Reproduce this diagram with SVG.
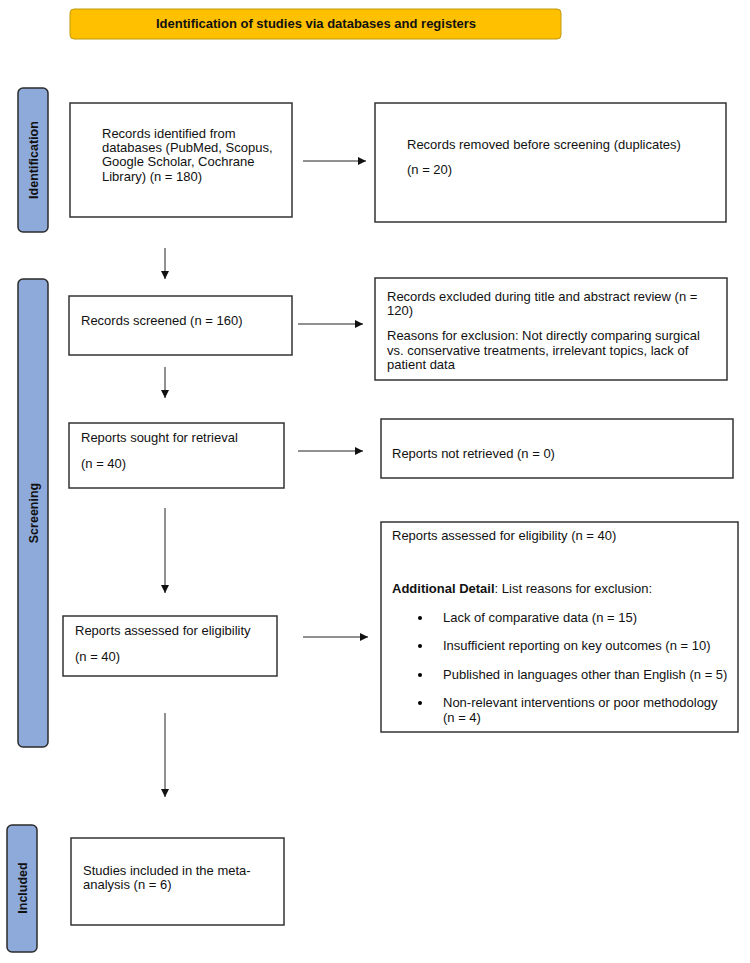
<svg xmlns="http://www.w3.org/2000/svg" width="750" height="963" viewBox="0 0 750 963">
<style>
text{font-family:"Liberation Sans",Arial,sans-serif;font-size:13px;fill:#111}
.box{fill:#fff;stroke:#333;stroke-width:1.5}
.side{fill:#8EAADB;stroke:#2b2b2b;stroke-width:1.5}
.sidet{font-weight:bold;font-size:12.5px;text-anchor:middle}
.conn{stroke:#222;stroke-width:1;fill:none;marker-end:url(#ah)}
</style>
<defs>
<marker id="ah" markerWidth="8" markerHeight="8" refX="8" refY="4" orient="auto" markerUnits="userSpaceOnUse">
<path d="M0,0 L8,4 L0,8 Z" fill="#111"/>
</marker>
</defs>
<rect width="750" height="963" fill="#fff"/>

<g id="header">
<rect x="70" y="9" width="491" height="30" rx="4" fill="#FFC000" stroke="#C09A10" stroke-width="1"/>
<text x="316" y="28" text-anchor="middle" font-weight="bold">Identification of studies via databases and registers</text>
</g>

<g id="side-identification">
<rect class="side" x="18" y="88" width="30" height="144" rx="5"/>
<text class="sidet" transform="translate(37.5,160) rotate(-90)">Identification</text>
</g>
<g id="side-screening">
<rect class="side" x="18" y="279" width="30" height="468" rx="5"/>
<text class="sidet" transform="translate(37.5,513) rotate(-90)">Screening</text>
</g>
<g id="side-included">
<rect class="side" x="7" y="825" width="30" height="127" rx="5"/>
<text class="sidet" transform="translate(26.5,888) rotate(-90)">Included</text>
</g>

<g id="n-identified">
<rect class="box" x="70" y="103" width="222" height="114"/>
<text x="102" y="138">Records identified from</text>
<text x="102" y="152">databases (PubMed, Scopus,</text>
<text x="102" y="166">Google Scholar, Cochrane</text>
<text x="102" y="181">Library) (n = 180)</text>
</g>
<g id="n-removed">
<rect class="box" x="375" y="103" width="351" height="119"/>
<text x="407" y="149">Records removed before screening (duplicates)</text>
<text x="407" y="174">(n = 20)</text>
</g>
<g id="n-screened">
<rect class="box" x="69" y="296" width="223" height="59"/>
<text x="81" y="325">Records screened (n = 160)</text>
</g>
<g id="n-excluded">
<rect class="box" x="375" y="278" width="352" height="102"/>
<text x="387" y="301">Records excluded during title and abstract review (n =</text>
<text x="387" y="315">120)</text>
<text x="387" y="340">Reasons for exclusion: Not directly comparing surgical</text>
<text x="387" y="355">vs. conservative treatments, irrelevant topics, lack of</text>
<text x="387" y="369">patient data</text>
</g>
<g id="n-sought">
<rect class="box" x="69" y="423" width="215" height="65"/>
<text x="81" y="442">Reports sought for retrieval</text>
<text x="81" y="468">(n = 40)</text>
</g>
<g id="n-notretrieved">
<rect class="box" x="381" y="419" width="352" height="59"/>
<text x="392" y="458">Reports not retrieved (n = 0)</text>
</g>
<g id="n-assessed">
<rect class="box" x="63" y="616" width="214" height="60"/>
<text x="75" y="635">Reports assessed for eligibility</text>
<text x="75" y="661">(n = 40)</text>
</g>
<g id="n-reasons">
<rect class="box" x="381" y="522" width="357" height="210"/>
<text x="392" y="540">Reports assessed for eligibility (n = 40)</text>
<text x="392" y="593"><tspan font-weight="bold">Additional Detail</tspan>: List reasons for exclusion:</text>
<circle cx="420" cy="618" r="2"/>
<circle cx="420" cy="646" r="2"/>
<circle cx="420" cy="675" r="2"/>
<circle cx="420" cy="703" r="2"/>
<text x="443" y="622">Lack of comparative data (n = 15)</text>
<text x="443" y="650">Insufficient reporting on key outcomes (n = 10)</text>
<text x="443" y="679">Published in languages other than English (n = 5)</text>
<text x="443" y="707">Non-relevant interventions or poor methodology</text>
<text x="443" y="722">(n = 4)</text>
</g>
<g id="n-included">
<rect class="box" x="71" y="838" width="213" height="87"/>
<text x="83" y="875">Studies included in the meta-</text>
<text x="83" y="889">analysis (n = 6)</text>
</g>

<g id="connectors">
<line class="conn" x1="303" y1="161" x2="366" y2="161"/>
<line class="conn" x1="165" y1="248" x2="165" y2="279"/>
<line class="conn" x1="298" y1="324" x2="363" y2="324"/>
<line class="conn" x1="165" y1="367" x2="165" y2="398"/>
<line class="conn" x1="298" y1="451" x2="363" y2="451"/>
<line class="conn" x1="165" y1="508" x2="165" y2="593"/>
<line class="conn" x1="303" y1="637" x2="368" y2="637"/>
<line class="conn" x1="165" y1="713" x2="165" y2="797"/>
</g>
</svg>
